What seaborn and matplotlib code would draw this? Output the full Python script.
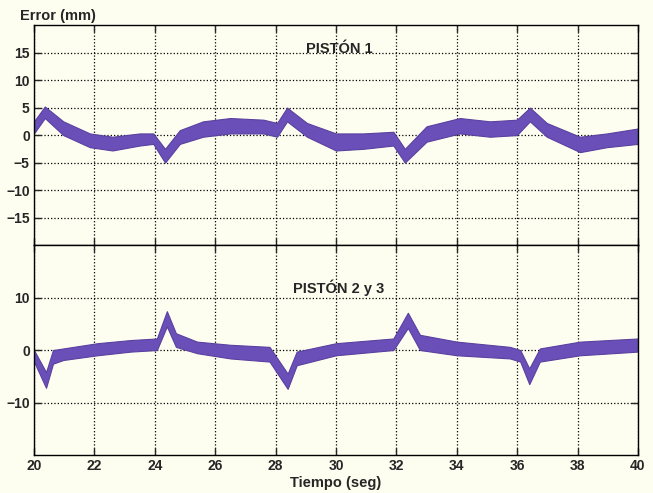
"""Piston tracking error, two stacked panels."""
import numpy as np
import pandas as pd
import matplotlib
matplotlib.use('Agg')
import matplotlib.pyplot as plt
import seaborn as sns

# Panel 1 (PISTON 1): time, upper and lower edge of the noisy band
t1 = [20.0, 20.36, 20.97, 21.85, 22.6, 23.5, 23.95, 24.34, 24.83, 25.6, 26.5,
      27.6, 28.05, 28.38, 29.04, 30.0, 30.9, 31.9, 32.28, 33.0, 34.1, 35.1,
      35.99, 36.42, 36.98, 38.08, 38.97, 40.0]
hi1 = [2.5, 5.2, 2.5, 0.3, -0.3, 0.3, 0.3, -2.5, 0.9, 2.5, 3.1,
       2.8, 2.2, 5.0, 2.2, 0.3, 0.3, 0.6, -2.5, 1.6, 3.1, 2.5,
       2.8, 5.0, 2.2, -0.3, 0.3, 1.2]
lo1 = [0.3, 3.1, 0.0, -2.2, -2.8, -1.9, -1.6, -5.0, -1.6, -0.3, 0.3,
       0.3, -0.3, 2.5, -0.3, -2.8, -2.5, -1.9, -5.0, -1.2, 0.3, -0.3,
       0.0, 2.5, -0.3, -3.1, -2.2, -1.6]

# Panel 2 (PISTON 2 y 3)
t2 = [20.0, 20.4, 20.63, 20.97, 22.1, 23.2, 24.07, 24.4, 24.7, 25.4, 26.5,
      27.8, 28.4, 28.7, 30.0, 31.9, 32.38, 32.78, 34.0, 35.76, 36.1, 36.4,
      36.75, 38.08, 40.0]
hi2 = [0.0, -4.2, 0.0, 0.3, 1.3, 1.9, 2.2, 7.4, 3.2, 1.6, 1.0,
       0.6, -4.5, -0.3, 1.3, 2.2, 7.1, 2.9, 1.6, 0.6, 0.0, -3.5,
       0.3, 1.6, 2.2]
lo2 = [-2.2, -7.2, -2.6, -1.9, -1.0, -0.3, 0.0, 4.5, 0.6, -0.6, -1.6,
       -2.2, -7.4, -2.9, -1.0, 0.0, 4.2, 0.0, -1.0, -1.6, -2.2, -6.5,
       -2.2, -1.0, -0.3]

x_ticks = [20, 22, 24, 26, 28, 30, 32, 34, 36, 38, 40]
y_ticks1 = [-15, -10, -5, 0, 5, 10, 15]
y_ticks2 = [-10, 0, 10]

BG = '#fdfdf0'
LINE = '#6a4fb8'

sns.set_style('ticks')
plt.rcParams['font.family'] = ['Liberation Sans', 'DejaVu Sans']
plt.rcParams['font.weight'] = 'bold'


def band_frame(t, hi, lo):
    return pd.DataFrame({'t': list(t) + list(t), 'err': list(hi) + list(lo)})


fig = plt.figure(figsize=(6.53, 4.93), dpi=100, facecolor=BG)
ax1 = fig.add_axes([0.052, 0.503, 0.925, 0.446])
ax2 = fig.add_axes([0.052, 0.077, 0.925, 0.426])

panels = [
    (ax1, band_frame(t1, hi1, lo1), y_ticks1, 'PISTÓN 1', 15.7),
    (ax2, band_frame(t2, hi2, lo2), y_ticks2, 'PISTÓN 2 y 3', 11.9),
]

for ax, df, yt, label, ly in panels:
    ax.set_facecolor(BG)
    sns.lineplot(data=df, x='t', y='err', ax=ax, color=LINE, lw=1,
                 estimator='mean', errorbar=('pi', 100),
                 err_kws={'alpha': 1.0, 'linewidth': 0.8, 'edgecolor': '#5a40a0'})
    ax.set_xlim(20, 40)
    ax.set_ylim(-20, 20)
    ax.set_xticks(x_ticks)
    ax.set_yticks(yt)
    ax.grid(True, color='black', linestyle=':', linewidth=0.9)
    ax.tick_params(direction='in', length=5, width=1, top=True, right=True,
                   labelsize=10, pad=3)
    for s in ax.spines.values():
        s.set_visible(True)
        s.set_color('black')
        s.set_linewidth(1)
    ax.set_xlabel('')
    ax.set_ylabel('')
    ax.text(30.1, ly, label, ha='center', va='center', fontsize=10.5,
            fontweight='bold')

ax1.tick_params(labelbottom=False)
ax2.set_xlabel('Tiempo (seg)', fontsize=10.5, fontweight='bold', labelpad=2)
fig.text(0.031, 0.967, 'Error (mm)', fontsize=10.5, fontweight='bold',
         ha='left', va='center')

fig.savefig('out.png', dpi=100, facecolor=BG)
